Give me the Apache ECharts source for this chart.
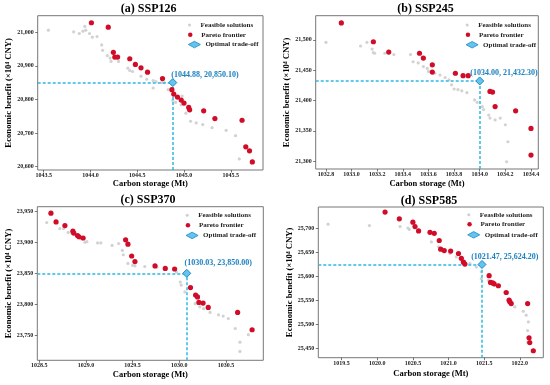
<!DOCTYPE html>
<html><head><meta charset="utf-8">
<script src="https://cdn.jsdelivr.net/npm/echarts@6/dist/echarts.min.js"></script>
<style>html,body{margin:0;padding:0;background:#fff}#c{width:550px;height:385px}</style>
</head><body><div id="c"></div>
<script>
const panelTitles = ['(a) SSP126', '(b) SSP245', '(c) SSP370', '(d) SSP585'];
const seriesNames = ['Feasible solutions', 'Pareto frontier', 'Optimal trade-off'];
const xAxisName = 'Carbon storage (Mt)';
const yAxisName = 'Economic benefit (\u00d710\u2074 CNY)';

const xTicksA = [1043.5, 1044.0, 1044.5, 1045.0, 1045.5];
const yTicksA = [20600, 20700, 20800, 20900, 21000];
const xTicksB = [1032.8, 1033.0, 1033.2, 1033.4, 1033.6, 1033.8, 1034.0, 1034.2, 1034.4];
const yTicksB = [21300, 21350, 21400, 21450, 21500];
const xTicksC = [1028.5, 1029.0, 1029.5, 1030.0, 1030.5];
const yTicksC = [23750, 23800, 23850, 23900, 23950];
const xTicksD = [1019.5, 1020.0, 1020.5, 1021.0, 1021.5, 1022.0];
const yTicksD = [25450, 25500, 25550, 25600, 25650, 25700];

const feasibleA = [[1043.55,21006],[1043.82,21001],[1043.88,20996],[1043.92,21003],[1043.94,21017],[1043.95,21006],[1043.99,20996],[1044.02,20985],[1044.07,20987],[1044.12,20962],[1044.13,20946],[1044.18,20930],[1044.21,20923],[1044.22,20913],[1044.30,20913],[1044.40,20893],[1044.42,20886],[1044.45,20883],[1044.54,20869],[1044.60,20860],[1044.67,20856],[1044.70,20853],[1044.76,20850],[1044.79,20850],[1044.67,20834],[1044.83,20829],[1044.88,20797],[1044.91,20791],[1044.97,20784],[1045.02,20759],[1045.07,20735],[1045.13,20730],[1045.20,20725],[1045.30,20716],[1045.45,20708],[1045.55,20692],[1045.59,20623],[1044.98,20810]];
const paretoA = [[1044.01,21028],[1044.19,21015],[1044.245,20940],[1044.26,20926],[1044.29,20926],[1044.42,20921],[1044.48,20904],[1044.54,20894],[1044.61,20881],[1044.77,20862],[1044.87,20829],[1044.89,20816],[1044.93,20807],[1044.97,20798],[1045.00,20789],[1045.05,20776],[1045.06,20769],[1045.21,20766],[1045.33,20743],[1045.62,20738],[1045.66,20659],[1045.70,20647],[1045.73,20614]];
const optimalA = [1044.88, 20850.10];

const feasibleB = [[1032.80,21496],[1033.07,21490],[1033.12,21496],[1033.16,21485],[1033.17,21479],[1033.18,21478],[1033.26,21478],[1033.33,21476],[1033.46,21476],[1033.48,21464],[1033.52,21462],[1033.56,21456],[1033.59,21453],[1033.60,21448],[1033.65,21445],[1033.69,21442],[1033.73,21438],[1033.76,21434],[1033.78,21426],[1033.80,21419],[1033.83,21418],[1033.86,21416],[1033.90,21413],[1033.96,21401],[1033.98,21397],[1034.02,21390],[1034.03,21385],[1034.07,21376],[1034.08,21371],[1034.12,21368],[1034.16,21371],[1034.20,21360],[1034.22,21332],[1034.21,21299]];
const paretoB = [[1032.92,21528],[1033.17,21497],[1033.29,21480],[1033.53,21478],[1033.56,21470],[1033.63,21459],[1033.63,21447],[1033.81,21445],[1033.87,21441],[1033.91,21441],[1034.08,21415],[1034.10,21414],[1034.12,21390],[1034.28,21383],[1034.40,21354],[1034.40,21310]];
const optimalB = [1034.00, 21432.30];

const feasibleC = [[1028.58,23932],[1028.72,23922],[1028.76,23922],[1028.81,23916],[1028.85,23914],[1028.94,23906],[1028.99,23900],[1029.01,23901],[1029.125,23899],[1029.16,23899],[1029.28,23895],[1029.35,23898],[1029.39,23887],[1029.40,23880],[1029.45,23866],[1029.50,23863],[1029.525,23862],[1029.63,23861],[1029.76,23860],[1029.97,23852],[1030.01,23836],[1030.02,23831],[1030.06,23820],[1030.17,23801],[1030.22,23796],[1030.26,23793],[1030.33,23787],[1030.42,23783],[1030.47,23781],[1030.525,23777],[1030.60,23761],[1030.65,23739],[1030.65,23724],[1030.74,23751]];
const paretoC = [[1028.625,23947],[1028.68,23933],[1028.775,23927],[1028.86,23918],[1028.87,23915],[1028.91,23911],[1028.925,23909],[1028.97,23907],[1029.425,23904],[1029.45,23897],[1029.49,23878],[1029.525,23869],[1029.74,23862],[1029.85,23858],[1029.95,23857],[1030.12,23827],[1030.175,23815],[1030.195,23812],[1030.21,23803],[1030.255,23802],[1030.31,23795],[1030.625,23787],[1030.78,23759]];
const optimalC = [1030.08, 23850.00];

const feasibleD = [[1019.31,25708],[1019.89,25705],[1020.32,25703],[1020.43,25700],[1020.45,25697],[1020.76,25671],[1020.86,25661],[1020.95,25654],[1021.02,25647],[1021.11,25640],[1021.18,25633],[1021.30,25626],[1021.39,25619],[1021.46,25609],[1021.46,25595],[1021.56,25591],[1021.65,25581],[1021.79,25567],[1021.86,25546],[1021.93,25536],[1022.05,25527],[1022.09,25519],[1022.12,25505],[1022.11,25487],[1022.11,25462]];
const paretoD = [[1020.11,25733],[1020.31,25719],[1020.50,25712],[1020.53,25703],[1020.58,25694],[1020.74,25691],[1020.80,25689],[1020.87,25674],[1020.89,25656],[1020.94,25653],[1021.03,25652],[1021.14,25647],[1021.18,25637],[1021.21,25629],[1021.23,25625],[1021.57,25601],[1021.59,25587],[1021.62,25586],[1021.64,25584],[1021.70,25580],[1021.81,25566],[1021.85,25550],[1021.86,25547],[1021.88,25543],[1022.11,25543],[1022.13,25472],[1022.14,25462],[1022.19,25445]];
const optimalD = [1021.47, 25624.20];

const optimalLabels = ['(1044.88, 20,850.10)', '(1034.00, 21,432.30)', '(1030.03, 23,850.00)', '(1021.47, 25,624.20)'];

const panels = [
  {xTicks:xTicksA, yTicks:yTicksA, feas:feasibleA, par:paretoA, opt:optimalA,
   xr:[1043.436,1045.844], yr:[20590,21049],
   grid:{left:37.7,top:15.7,width:225.3,height:154.3}, titleX:148.7, titleY:3,
   xGap:9, yGap:21.5, lab:[3,-3.5], legX:194, legY:[25,34.7,44.4]},
  {xTicks:xTicksB, yTicks:yTicksB, feas:feasibleB, par:paretoB, opt:optimalB,
   xr:[1032.72,1034.457], yr:[21287,21540],
   grid:{left:315.7,top:15.7,width:222.6,height:153.3}, titleX:425.5, titleY:3,
   xGap:10, yGap:21.2, lab:[-5,-3.4], legX:471.7, legY:[25,34.7,44.6]},
  {xTicks:xTicksC, yTicks:yTicksC, feas:feasibleC, par:paretoC, opt:optimalC,
   xr:[1028.479,1030.9], yr:[23709.7,23957.5],
   grid:{left:37.3,top:206.7,width:226,height:153.6}, titleX:148, titleY:194,
   xGap:10, yGap:21, lab:[2.3,-6.3], legX:191.7, legY:[215.3,225.3,235.3]},
  {xTicks:xTicksD, yTicks:yTicksD, feas:feasibleD, par:paretoD, opt:optimalD,
   xr:[1019.173,1022.33], yr:[25430.6,25743.6],
   grid:{left:318.3,top:207,width:225,height:150.7}, titleX:429, titleY:195,
   xGap:11.5, yGap:23.8, lab:[-6.3,-3.3], legX:473.3, legY:[214.7,224.3,234.7]}
];

const FONT = 'Liberation Serif';
const DASH = '#2cb8e6';
const grids = [], xAxes = [], yAxes = [], series = [], titles = [], legends = [];
const legendIcons = [
  {icon:'circle', h:3, color:'#cfcfcf'},
  {icon:'circle', h:4.5, color:'#d10c29'},
  {icon:'diamond', h:6.5, color:'#63c5ec', border:'#1f87c9'}
];

panels.forEach((p, i) => {
  grids.push(Object.assign({show:true, borderColor:'#777', borderWidth:1, backgroundColor:'transparent'}, p.grid));
  titles.push({text:panelTitles[i], left:p.titleX, top:p.titleY, textAlign:'center', padding:0,
    textStyle:{fontFamily:FONT, fontWeight:'bold', fontSize:12, color:'#000'}});
  xAxes.push({type:'value', gridIndex:i, min:p.xr[0], max:p.xr[1], splitLine:{show:false},
    axisLine:{show:false}, axisTick:{show:true, length:2.5, customValues:p.xTicks, lineStyle:{color:'#555', width:0.8}},
    axisLabel:{customValues:p.xTicks, formatter:v => Number(v).toFixed(1), margin:2.5, fontSize:6, fontWeight:'bold', fontFamily:FONT, color:'#222'},
    name:xAxisName, nameLocation:'middle', nameGap:p.xGap,
    nameTextStyle:{fontFamily:FONT, fontWeight:'bold', fontSize:8.5, color:'#000'}});
  yAxes.push({type:'value', gridIndex:i, min:p.yr[0], max:p.yr[1], splitLine:{show:false},
    axisLine:{show:false}, axisTick:{show:true, length:2.5, customValues:p.yTicks, lineStyle:{color:'#555', width:0.8}},
    axisLabel:{customValues:p.yTicks, formatter:v => Number(v).toLocaleString('en-US'), margin:4, fontSize:6, fontWeight:'bold', fontFamily:FONT, color:'#222'},
    name:yAxisName, nameLocation:'middle', nameGap:p.yGap,
    nameTextStyle:{fontFamily:FONT, fontWeight:'bold', fontSize:8.7, color:'#000'}});
  series.push({type:'scatter', name:seriesNames[0], xAxisIndex:i, yAxisIndex:i, data:p.feas,
    symbolSize:3.2, itemStyle:{color:'#d2d2d2', opacity:1}, silent:true, z:1});
  series.push({type:'scatter', name:seriesNames[1], xAxisIndex:i, yAxisIndex:i, data:p.par,
    symbolSize:5.2, itemStyle:{color:'#d10c29', opacity:1}, silent:true, z:3});
  const ls = {color:DASH, type:[3,2], width:1.5, opacity:1};
  series.push({type:'scatter', name:seriesNames[2], xAxisIndex:i, yAxisIndex:i, data:[p.opt],
    symbol:'diamond', symbolSize:8, silent:true, z:4,
    itemStyle:{color:'#63c5ec', borderColor:'#1f87c9', borderWidth:1, opacity:1},
    label:{show:true, formatter:optimalLabels[i], position:p.lab, align:'left', verticalAlign:'middle',
      fontFamily:FONT, fontWeight:'bold', fontSize:8, color:'#1a80c0'},
    markLine:{symbol:'none', silent:true, animation:false, z:2, label:{show:false},
      lineStyle:ls, emphasis:{disabled:true},
      data:[[{coord:[p.xr[0], p.opt[1]], lineStyle:ls},{coord:p.opt}],
            [{coord:[p.opt[0], p.yr[0]], lineStyle:ls},{coord:p.opt}]]}});
  legendIcons.forEach((li, k) => {
    legends.push({data:[{name:seriesNames[k], icon:li.icon, itemStyle:{color:li.color, opacity:1, borderColor:li.border||li.color, borderWidth:li.border?0.8:0}}],
      orient:'vertical', left:p.legX - 6, top:p.legY[k] - 3.5, padding:0, itemWidth:12, itemHeight:li.h,
      selectedMode:false, textStyle:{fontFamily:FONT, fontWeight:'bold', fontSize:7, color:'#222'}});
  });
});

const chart = echarts.init(document.getElementById('c'), null, {renderer:'canvas'});
chart.setOption({animation:false, backgroundColor:'#fff', title:titles, legend:legends,
  grid:grids, xAxis:xAxes, yAxis:yAxes, series:series});
</script></body></html>
